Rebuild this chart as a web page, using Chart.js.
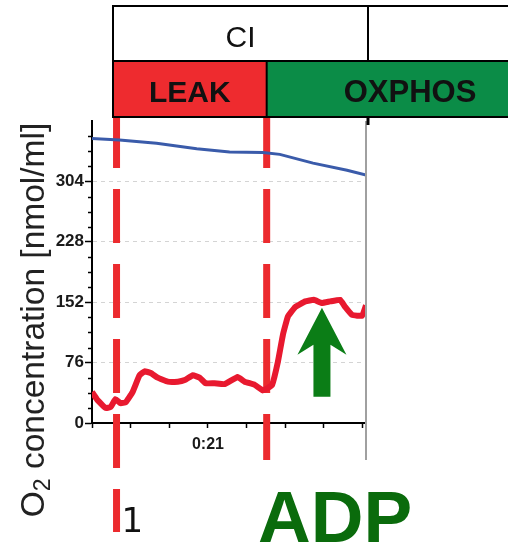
<!DOCTYPE html>
<html>
<head>
<meta charset="utf-8">
<script src="https://cdn.jsdelivr.net/npm/chart.js@4.4.1/dist/chart.umd.min.js"></script>
<style>
    html, body { margin: 0; padding: 0; background: #fff; }
    canvas { display: block; }
</style>
</head>
<body>
<canvas id="o2Chart" width="514" height="548"></canvas>
<script>
// Temps en minutes, valeurs en nmol/ml
const blueTime = [18.0, 18.71, 19.67, 20.71, 21.56, 22.42, 22.86, 23.72, 24.60, 25.09];
const blueValues = [358, 356, 352, 345, 341, 340.5, 338, 327, 318, 312];

const redTime = [18.0, 18.14, 18.35, 18.48, 18.61, 18.74, 18.87, 19.05, 19.23, 19.36, 19.52, 19.70,
    19.96, 20.22, 20.40, 20.61, 20.79, 20.94, 21.17, 21.43, 21.77, 21.95, 22.21, 22.42, 22.55,
    22.66, 22.81, 22.94, 23.07, 23.26, 23.52, 23.74, 23.95, 24.16, 24.42, 24.55, 24.73, 24.99, 25.09];
const redValues = [39, 29, 19, 20, 30, 25, 26, 39, 60, 65, 63, 57,
    52, 52, 54, 60, 57, 50, 50, 49, 58, 52, 48, 41, 44,
    48, 77, 111, 134, 146, 153, 155, 151, 153, 155, 146, 136, 135, 148];

// Événements (injections) et marques d'axe
const eventTimes = [18.635, 22.52];
const eventLabels = ['1', ''];
const adpTime = 23.95;
const adpTip = 145;      // pointe de la flèche (nmol/ml)
const adpBottom = 33;    // bas de la flèche
const yMajorTicks = [0, 76, 152, 228, 304];
const xLabelValues = [21];
const xLabelTexts = ['0:21'];
const stateNames = ['CI', 'LEAK', 'OXPHOS'];

const FONT = '"Liberation Sans", Arial, sans-serif';

const decorPlugin = {
    id: 'decor',
    beforeDatasetsDraw(chart) {
        const { ctx, scales: { x } } = chart;
        const ends = [532, 460];
        ctx.save();
        ctx.strokeStyle = '#ec2a2e';
        ctx.lineWidth = 7;
        ctx.setLineDash([54, 21]);
        eventTimes.forEach((t, i) => {
            const px = x.getPixelForValue(t);
            ctx.beginPath();
            ctx.moveTo(px, 114);
            ctx.lineTo(px, ends[i]);
            ctx.stroke();
        });
        ctx.restore();
    },
    afterDraw(chart) {
        const { ctx, scales: { x, y }, chartArea } = chart;
        ctx.save();

        // bord droit gris du graphique
        ctx.strokeStyle = '#a0a0a0';
        ctx.lineWidth = 2;
        ctx.beginPath();
        ctx.moveTo(chartArea.right, chartArea.top);
        ctx.lineTo(chartArea.right, 460);
        ctx.stroke();

        // petites graduations de l'axe Y
        ctx.strokeStyle = '#000';
        ctx.lineWidth = 1.5;
        for (let v = 19; v < 380; v += 19) {
            if (v % 76 === 0) continue;
            const py = Math.round(y.getPixelForValue(v)) + 0.5;
            ctx.beginPath();
            ctx.moveTo(chartArea.left - 4, py);
            ctx.lineTo(chartArea.left, py);
            ctx.stroke();
        }

        // tableau des états en haut
        const divX = x.getPixelForValue(eventTimes[1]);
        ctx.fillStyle = '#ee2b2f';
        ctx.fillRect(113, 61, divX - 113, 56);
        ctx.fillStyle = '#0b8c47';
        ctx.fillRect(divX, 61, 508 - divX, 56);
        ctx.strokeStyle = '#000';
        ctx.lineWidth = 2;
        const seg = (x1, y1, x2, y2) => { ctx.beginPath(); ctx.moveTo(x1, y1); ctx.lineTo(x2, y2); ctx.stroke(); };
        seg(112, 6, 508, 6);
        seg(112, 61, 508, 61);
        seg(112, 117, 508, 117);
        seg(113, 6, 113, 117);
        seg(368, 6, 368, 61);
        seg(divX, 61, divX, 117);
        ctx.lineWidth = 3;
        seg(368, 117, 368, 125);

        ctx.fillStyle = '#111';
        ctx.textAlign = 'center';
        ctx.textBaseline = 'alphabetic';
        ctx.font = '30px ' + FONT;
        ctx.fillText(stateNames[0], 240.5, 47);
        ctx.font = 'bold 30px ' + FONT;
        ctx.fillText(stateNames[1], (113 + divX) / 2, 102);
        ctx.font = 'bold 31px ' + FONT;
        ctx.fillText(stateNames[2], 410, 102);

        // flèche ADP
        const ax = x.getPixelForValue(adpTime);
        const tipY = y.getPixelForValue(adpTip);
        const botY = y.getPixelForValue(adpBottom);
        ctx.fillStyle = '#0b7d16';
        ctx.beginPath();
        ctx.moveTo(ax, tipY);
        ctx.lineTo(ax + 24.5, tipY + 47);
        ctx.lineTo(ax + 8.5, tipY + 37);
        ctx.lineTo(ax + 8.5, botY);
        ctx.lineTo(ax - 8.5, botY);
        ctx.lineTo(ax - 8.5, tipY + 37);
        ctx.lineTo(ax - 24.5, tipY + 47);
        ctx.closePath();
        ctx.fill();

        // textes sous le graphique
        ctx.textAlign = 'left';
        ctx.fillStyle = '#0a6b0c';
        ctx.font = 'bold 73px ' + FONT;
        ctx.fillText('ADP', 258, 542);
        ctx.fillStyle = '#111';
        ctx.font = '34px "DejaVu Sans", sans-serif';
        ctx.fillText(eventLabels[0], x.getPixelForValue(eventTimes[0]) + 5, 532);

        // titre de l'axe Y avec indice
        ctx.translate(44, 320);
        ctx.rotate(-Math.PI / 2);
        ctx.fillStyle = '#222';
        const big = '33.5px ' + FONT, small = '23px ' + FONT;
        const rest = ' concentration [nmol/ml]';
        ctx.font = big;
        const wO = ctx.measureText('O').width;
        const wR = ctx.measureText(rest).width;
        ctx.font = small;
        const w2 = ctx.measureText('2').width;
        let cx = -(wO + w2 + wR) / 2;
        ctx.font = big;
        ctx.fillText('O', cx, 0);
        cx += wO;
        ctx.font = small;
        ctx.fillText('2', cx, 6);
        cx += w2;
        ctx.font = big;
        ctx.fillText(rest, cx, 0);

        ctx.restore();
    }
};

document.addEventListener('DOMContentLoaded', () => {
    const ctx = document.getElementById('o2Chart').getContext('2d');

    new Chart(ctx, {
        type: 'line',
        data: {
            datasets: [{
                label: 'O2 concentration',
                data: blueTime.map((t, i) => ({ x: t, y: blueValues[i] })),
                borderColor: '#3a5baa',
                borderWidth: 3,
                pointRadius: 0,
                tension: 0
            }, {
                label: 'O2 flux',
                data: redTime.map((t, i) => ({ x: t, y: redValues[i] })),
                borderColor: '#e8192f',
                borderWidth: 6,
                pointRadius: 0,
                tension: 0.1
            }]
        },
        options: {
            responsive: false,
            animation: false,
            devicePixelRatio: 1,
            layout: { padding: { top: 121, right: 148, bottom: 0, left: 0 } },
            plugins: { legend: { display: false }, tooltip: { enabled: false } },
            scales: {
                x: {
                    type: 'linear',
                    min: 18,
                    max: 25.09,
                    afterFit: s => { s.height = 125; s.paddingLeft = 0; s.paddingRight = 0; },
                    border: { color: '#000', width: 2 },
                    grid: { drawOnChartArea: false, tickLength: 5, tickColor: '#000', tickWidth: 1.5 },
                    ticks: {
                        stepSize: 1,
                        includeBounds: false,
                        autoSkip: false,
                        maxRotation: 0,
                        padding: 7,
                        color: '#1a1a1a',
                        font: { family: FONT, size: 16, weight: 'bold' },
                        callback: v => {
                            const k = xLabelValues.indexOf(v);
                            return k >= 0 ? xLabelTexts[k] : '';
                        }
                    }
                },
                y: {
                    min: 0,
                    max: 380,
                    afterFit: s => { s.width = 92; s.paddingTop = 0; s.paddingBottom = 0; },
                    border: { color: '#000', width: 2, dash: [4, 4] },
                    grid: {
                        tickLength: 7,
                        tickWidth: 1.5,
                        color: c => (c.tick && c.tick.value > 0 && yMajorTicks.includes(c.tick.value)) ? '#d4d4d4' : 'transparent',
                        tickColor: c => (c.tick && yMajorTicks.includes(c.tick.value)) ? '#000' : 'transparent'
                    },
                    ticks: {
                        stepSize: 19,
                        padding: 1,
                        color: '#1a1a1a',
                        font: { family: FONT, size: 17, weight: 'bold' },
                        callback: v => yMajorTicks.includes(v) ? String(v) : ''
                    }
                }
            }
        },
        plugins: [decorPlugin]
    });
});
</script>
</body>
</html>
